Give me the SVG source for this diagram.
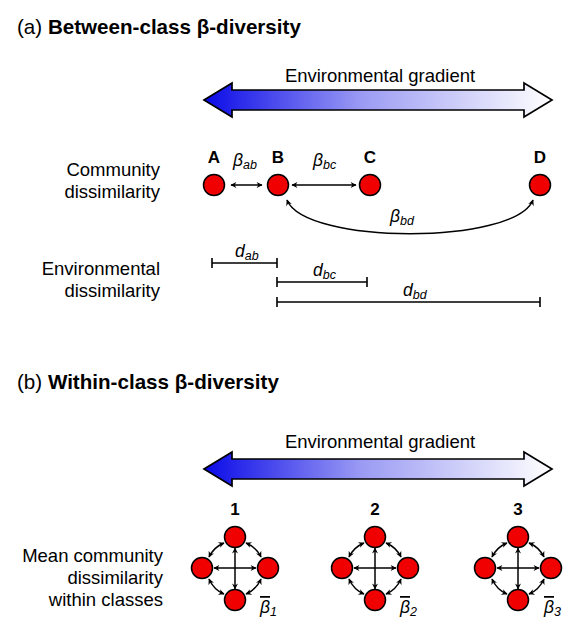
<svg xmlns="http://www.w3.org/2000/svg" width="576" height="640" viewBox="0 0 576 640">
<style>
text{font-family:"Liberation Sans",Arial,sans-serif;fill:#000}
.title{font-size:20.6px;font-weight:bold}
.lbl{font-size:18.5px}
.node-lbl{font-size:17px;font-weight:bold;text-anchor:middle}
.sym{font-style:italic;font-size:17.5px}
.sub{font-size:12.5px}
.node{fill:#f00000;stroke:#000;stroke-width:1.5}
.grad{fill:url(#g);stroke:#000;stroke-width:1.7;stroke-linejoin:miter}
.conn{fill:none;stroke:#000;stroke-width:1.5;marker-start:url(#ah);marker-end:url(#ah)}
.bar{fill:none;stroke:#000;stroke-width:1.6}
</style>
<defs>
<linearGradient id="g" x1="0" y1="0" x2="1" y2="0">
<stop offset="0" stop-color="#0a0ae8"/>
<stop offset="0.45" stop-color="#9a9af4"/>
<stop offset="1" stop-color="#ffffff"/>
</linearGradient>
<marker id="ah" viewBox="0 0 10 10" refX="9" refY="5" markerWidth="7" markerHeight="6" markerUnits="userSpaceOnUse" orient="auto-start-reverse">
<path d="M0,0 L10,5 L0,10 L3,5 z" fill="#000"/>
</marker>
<path id="bigarrow" d="M0,0 L28,-17 L28,-10 L320,-10 L320,-17 L348,0 L320,17 L320,10 L28,10 L28,17 Z"/>
</defs>

<!-- (a) -->
<g id="title-a"><text class="title" x="17" y="34"><tspan font-weight="normal">(a)</tspan> Between-class β-diversity</text></g>
<g id="gradient-a">
<text class="lbl" x="380" y="82" text-anchor="middle">Environmental gradient</text>
<use href="#bigarrow" class="grad" x="204" y="100"/>
</g>
<g id="label-community">
<text class="lbl" x="160" y="176" text-anchor="end">Community</text>
<text class="lbl" x="160" y="198" text-anchor="end">dissimilarity</text>
</g>
<g id="label-env">
<text class="lbl" x="160" y="275" text-anchor="end">Environmental</text>
<text class="lbl" x="160" y="297" text-anchor="end">dissimilarity</text>
</g>
<g id="node-A"><circle class="node" cx="214" cy="185" r="10.5"/><text class="node-lbl" x="214" y="163">A</text></g>
<g id="node-B"><circle class="node" cx="278" cy="185" r="10.5"/><text class="node-lbl" x="278" y="163">B</text></g>
<g id="node-C"><circle class="node" cx="370" cy="185" r="10.5"/><text class="node-lbl" x="370" y="163">C</text></g>
<g id="node-D"><circle class="node" cx="540" cy="185" r="10.5"/><text class="node-lbl" x="540" y="163">D</text></g>

<g id="connectors">
<path class="conn" d="M231,185 L262,185"/>
<path class="conn" d="M292,185 L356,185"/>
<path class="conn" d="M287,200 C305,245 515,245 533,200"/>
<g id="conn-g1">
<path class="conn" d="M214,568 L256,568"/>
<path class="conn" d="M235,548 L235,589"/>
<path class="conn" d="M224,543 Q214,547 209,557"/>
<path class="conn" d="M246,543 Q256,547 261,557"/>
<path class="conn" d="M224,594 Q214,590 209,579"/>
<path class="conn" d="M246,594 Q256,590 261,579"/>
</g>
<g id="conn-g2">
<path class="conn" d="M354,568 L396,568"/>
<path class="conn" d="M375,548 L375,589"/>
<path class="conn" d="M364,543 Q354,547 349,557"/>
<path class="conn" d="M386,543 Q396,547 401,557"/>
<path class="conn" d="M364,594 Q354,590 349,579"/>
<path class="conn" d="M386,594 Q396,590 401,579"/>
</g>
<g id="conn-g3">
<path class="conn" d="M497,568 L539,568"/>
<path class="conn" d="M518,548 L518,589"/>
<path class="conn" d="M507,543 Q497,547 492,557"/>
<path class="conn" d="M529,543 Q539,547 544,557"/>
<path class="conn" d="M507,594 Q497,590 492,579"/>
<path class="conn" d="M529,594 Q539,590 544,579"/>
</g>
</g>

<g id="beta-labels">
<text class="sym" x="233" y="166">β<tspan class="sub" dy="3">ab</tspan></text>
<text class="sym" x="313" y="166">β<tspan class="sub" dy="3">bc</tspan></text>
<text class="sym" x="390" y="222">β<tspan class="sub" dy="3">bd</tspan></text>
</g>

<g id="distances">
<path class="bar" d="M212,263 L277,263 M212,258 L212,268 M277,258 L277,268"/>
<path class="bar" d="M277,282 L367,282 M277,277 L277,287 M367,277 L367,287"/>
<path class="bar" d="M277,302 L540,302 M277,297 L277,307 M540,297 L540,307"/>
<text class="sym" x="235" y="257">d<tspan class="sub" dy="3">ab</tspan></text>
<text class="sym" x="313" y="276">d<tspan class="sub" dy="3">bc</tspan></text>
<text class="sym" x="403" y="296">d<tspan class="sub" dy="3">bd</tspan></text>
</g>

<!-- (b) -->
<g id="title-b"><text class="title" x="17" y="389"><tspan font-weight="normal">(b)</tspan> Within-class β-diversity</text></g>
<g id="gradient-b">
<text class="lbl" x="380" y="448" text-anchor="middle">Environmental gradient</text>
<use href="#bigarrow" class="grad" x="204" y="469"/>
</g>
<g id="label-mean">
<text class="lbl" x="163" y="562" text-anchor="end">Mean community</text>
<text class="lbl" x="163" y="584" text-anchor="end">dissimilarity</text>
<text class="lbl" x="163" y="606" text-anchor="end">within classes</text>
</g>

<g id="class-1">
<text class="node-lbl" x="235" y="515">1</text>
<circle class="node" cx="235" cy="537" r="10.5"/>
<circle class="node" cx="202" cy="568" r="10.5"/>
<circle class="node" cx="268" cy="568" r="10.5"/>
<circle class="node" cx="235" cy="600" r="10.5"/>
<text class="sym" x="260" y="613"><tspan text-decoration="overline">β</tspan><tspan class="sub" dy="3">1</tspan></text>
</g>
<g id="class-2">
<text class="node-lbl" x="375" y="515">2</text>
<circle class="node" cx="375" cy="537" r="10.5"/>
<circle class="node" cx="342" cy="568" r="10.5"/>
<circle class="node" cx="408" cy="568" r="10.5"/>
<circle class="node" cx="375" cy="600" r="10.5"/>
<text class="sym" x="400" y="613"><tspan text-decoration="overline">β</tspan><tspan class="sub" dy="3">2</tspan></text>
</g>
<g id="class-3">
<text class="node-lbl" x="518" y="515">3</text>
<circle class="node" cx="518" cy="537" r="10.5"/>
<circle class="node" cx="485" cy="568" r="10.5"/>
<circle class="node" cx="551" cy="568" r="10.5"/>
<circle class="node" cx="518" cy="600" r="10.5"/>
<text class="sym" x="544" y="613"><tspan text-decoration="overline">β</tspan><tspan class="sub" dy="3">3</tspan></text>
</g>
</svg>
